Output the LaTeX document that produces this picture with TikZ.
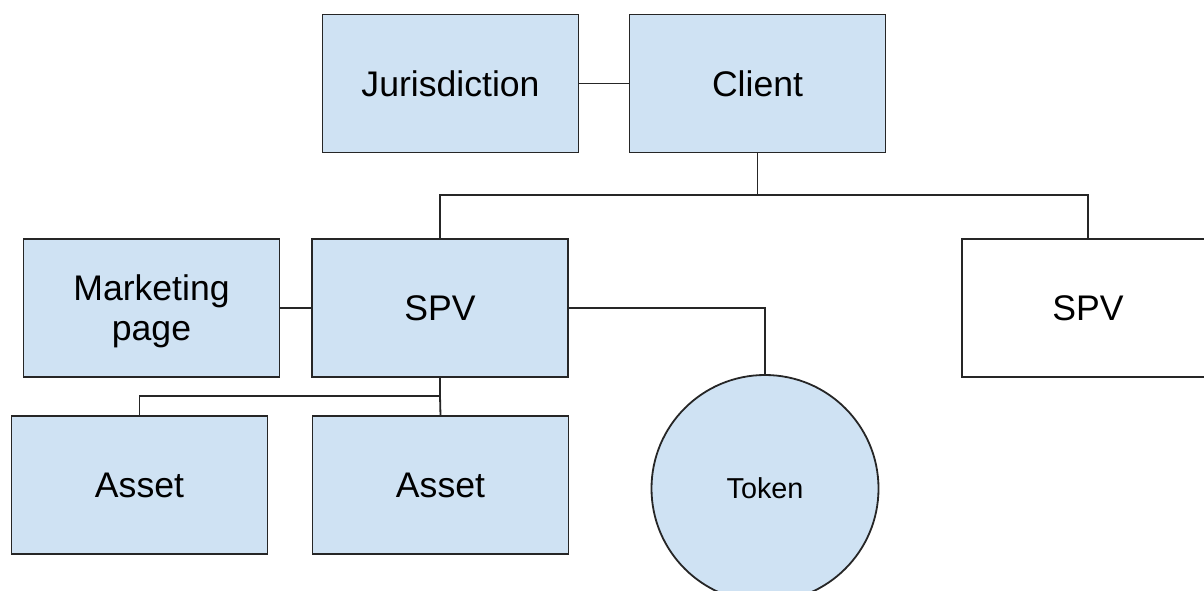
\documentclass[tikz,border=0pt]{standalone}
\usepackage{fontspec}
\setmainfont{Liberation Sans}
\definecolor{boxfill}{HTML}{CFE2F3}
\definecolor{edge}{HTML}{262626}
\tikzset{
  entity/.style={draw=edge, line width=0.9pt, fill=boxfill, rectangle,
    minimum width=128pt, minimum height=69pt, inner sep=0pt, outer sep=0pt,
    align=center, font=\fontsize{17.8}{20}\selectfont},
  plain/.style={entity, fill=white},
  tokenshape/.style={draw=edge, line width=0.9pt, fill=boxfill, circle,
    minimum size=113.5pt, inner sep=0pt, outer sep=0pt,
    font=\fontsize{14.4}{17}\selectfont},
  link/.style={draw=edge, line width=0.9pt}
}
\begin{document}
\begin{tikzpicture}[x=0.5pt,y=-0.5pt]
\useasboundingbox (0,0) rectangle (1204,590);
\clip (0,0) rectangle (1204,590);
\fill[white] (0,0) rectangle (1204,590);

% top row
\node[entity] (jur) at (450.5,83.5) {Jurisdiction};
\node[entity] (client) at (757.5,83.5) {Client};

% middle row
\node[entity] (mkt) at (151.5,308) {\rule{0pt}{15.8pt}Marketing\\page};
\node[entity] (spv) at (440,308) {SPV};
\node[plain, minimum width=126pt] (spvb) at (1088,308) {SPV};

% bottom row
\node[entity] (assetA) at (139.5,485) {Asset};
\node[entity] (assetB) at (440.5,485) {Asset};
\node[tokenshape] (token) at (765,488.5) {Token};

% junction points of the buses
\coordinate (busTop) at (757.5,195);
\coordinate (busLow) at (440,396);

% connectors
\draw[link] (jur.east) -- (client.west);
\draw[link] (mkt.east) -- (spv.west);
\draw[link] (client.south) -- (busTop) -| (spv.north);
\draw[link] (busTop) -| (spvb.north);
\draw[link] (spv.east) -| (token.north);
\draw[link] (spv.south) -- (busLow) -| (assetA.north);
\draw[link] (busLow) -- (assetB.north);
\end{tikzpicture}
\end{document}
